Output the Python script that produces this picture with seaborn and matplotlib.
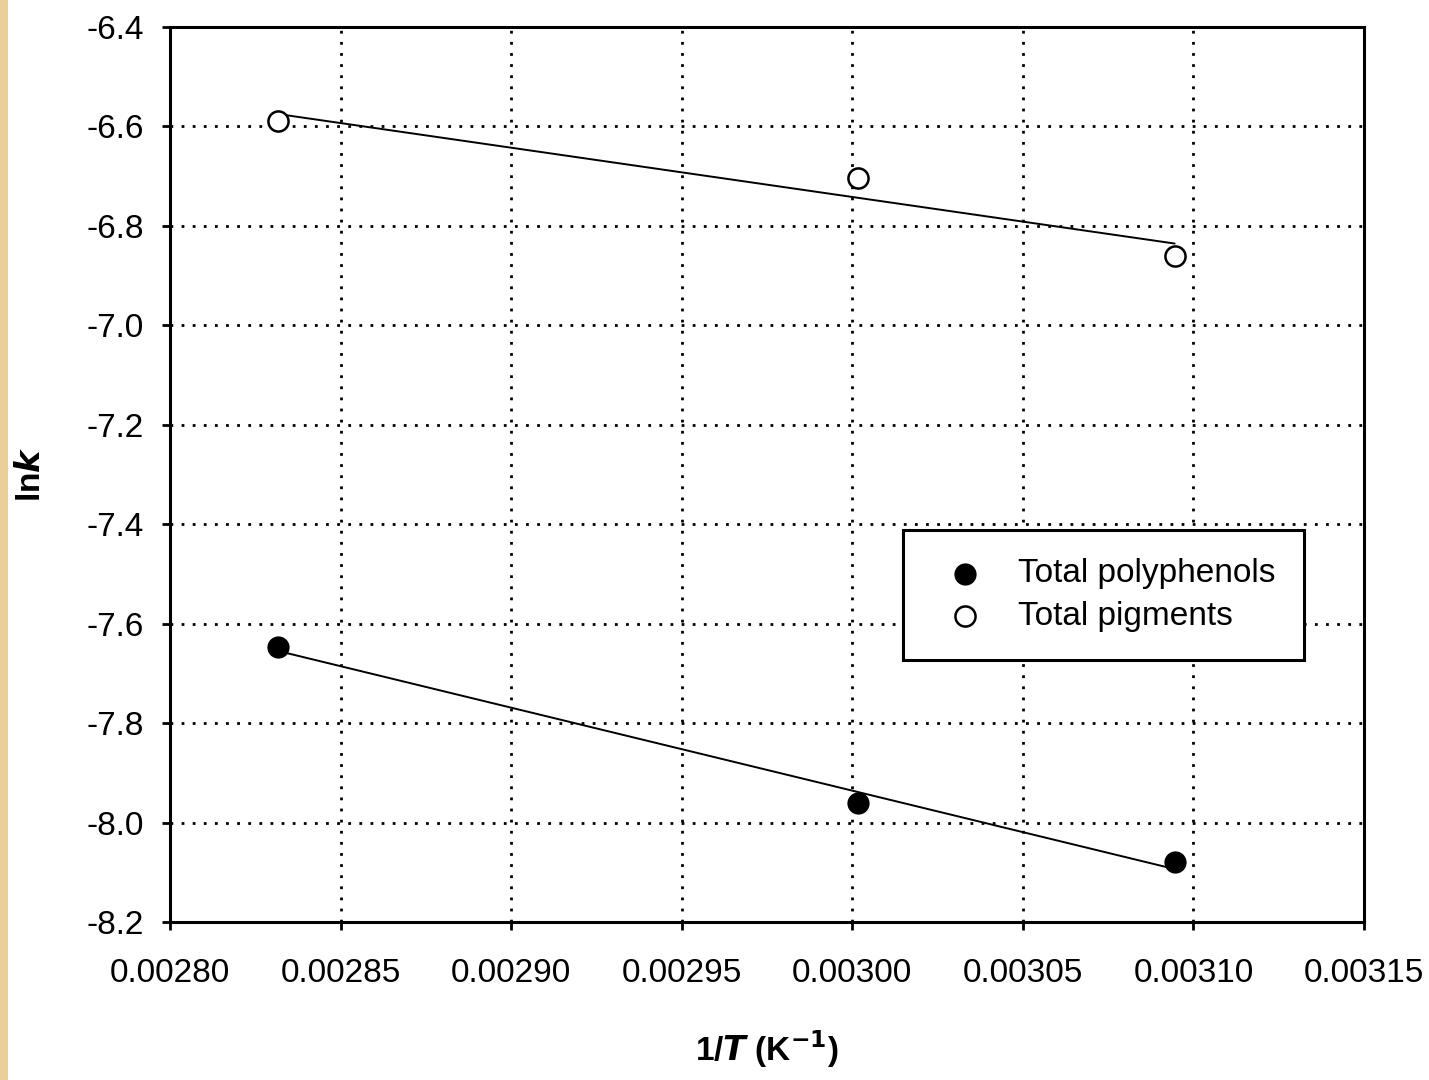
import matplotlib
matplotlib.use("Agg")
import matplotlib.pyplot as plt
import seaborn as sns
import pandas as pd
from matplotlib.patches import Rectangle

inv_T = [0.0028317, 0.0030016, 0.0030945]
ln_k_polyphenols = [-7.647, -7.961, -8.079]
ln_k_pigments = [-6.589, -6.704, -6.861]
series_names = ["Total polyphenols", "Total pigments"]
x_ticks = [0.00280, 0.00285, 0.00290, 0.00295, 0.00300, 0.00305, 0.00310, 0.00315]
y_ticks = [-8.2, -8.0, -7.8, -7.6, -7.4, -7.2, -7.0, -6.8, -6.6, -6.4]

sns.set_style("white")
plt.rcParams['font.family'] = ['Liberation Sans', 'DejaVu Sans']
plt.rcParams['text.color'] = 'black'

fig = plt.figure(figsize=(14.29, 10.8), dpi=100)
fig.patches.append(Rectangle((0, 0), 8 / 1429, 1, transform=fig.transFigure,
                             facecolor="#EBCF98", edgecolor="none", zorder=0))
ax = fig.add_axes([170 / 1429, 1 - 922 / 1080, (1364 - 170) / 1429, (922 - 27) / 1080])

df_poly = pd.DataFrame({"x": inv_T, "y": ln_k_polyphenols})
df_pig = pd.DataFrame({"x": inv_T, "y": ln_k_pigments})

sns.regplot(data=df_poly, x="x", y="y", ax=ax, ci=None, scatter=False,
            line_kws=dict(color="black", lw=1.4, zorder=3))
sns.regplot(data=df_pig, x="x", y="y", ax=ax, ci=None, scatter=False,
            line_kws=dict(color="black", lw=1.4, zorder=3))
sns.scatterplot(data=df_poly, x="x", y="y", ax=ax, marker="o", s=210,
                color="black", edgecolor="black", linewidth=1.5,
                label=series_names[0], zorder=4)
sns.scatterplot(data=df_pig, x="x", y="y", ax=ax, marker="o", s=210,
                facecolor="white", edgecolor="black", linewidth=1.8,
                label=series_names[1], zorder=4)

ax.set_xlim(0.00280, 0.00315)
ax.set_ylim(-8.2, -6.4)
ax.set_xticks(x_ticks)
ax.set_xticklabels([f"{v:.5f}" for v in x_ticks])
ax.set_yticks(y_ticks)
ax.set_yticklabels([f"{v:.1f}" for v in y_ticks])

ax.grid(True, color="black", linestyle=(0, (1, 3)), linewidth=2)
ax.set_axisbelow(True)
for s in ax.spines.values():
    s.set_visible(True)
    s.set_color("black")
    s.set_linewidth(2.2)

ax.tick_params(axis="both", direction="out", length=6, width=2, color="black",
               labelsize=24, labelcolor="black", left=True, bottom=True)
ax.tick_params(axis="x", pad=20)
ax.tick_params(axis="y", pad=13)

ax.set_xlabel(r"1/$\boldsymbol{T}$ (K$^{\mathbf{-1}}$)", fontsize=24, fontweight="bold",
              labelpad=28, color="black")
ax.set_ylabel(r"ln$\boldsymbol{k}$", fontsize=24, fontweight="bold", labelpad=28,
              color="black")

leg = ax.legend(loc="upper left", bbox_to_anchor=(903 / 1429, 1 - 530 / 1080),
                bbox_transform=fig.transFigure, frameon=True, fancybox=False,
                framealpha=1, edgecolor="black", fontsize=24, borderpad=0.85,
                handletextpad=0.58, labelspacing=0.35, borderaxespad=0,
                handlelength=2.02, labelcolor="black")
leg.get_frame().set_linewidth(2.2)

fig.savefig("out.png", dpi=100, facecolor="white")
